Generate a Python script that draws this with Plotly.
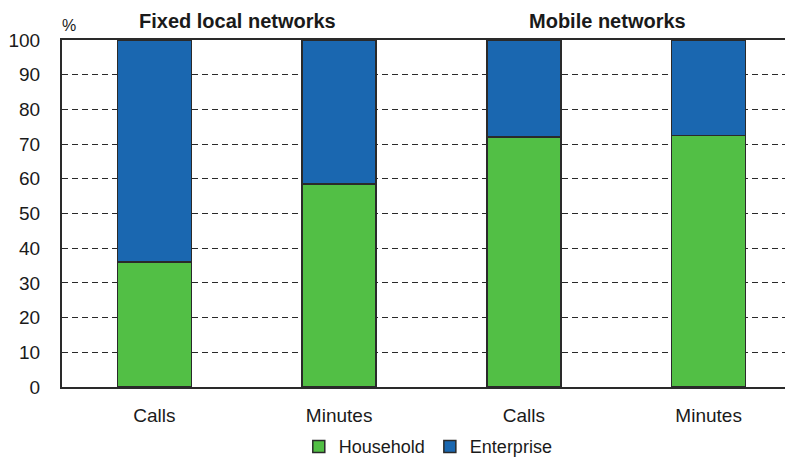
import plotly.graph_objects as go

FONT_FAMILY = "'Liberation Sans', Arial, sans-serif"
TEXT = '#1a1a1a'
GREEN = '#52bf45'
BLUE = '#1a67b0'
LINE = '#2a2a2a'

categories = ['Calls', 'Minutes', 'Calls ', 'Minutes ']
tick_labels = ['Calls', 'Minutes', 'Calls', 'Minutes']
household = [36, 58.5, 72, 72.5]
enterprise = [64, 41.5, 28, 27.5]
groups = ['Fixed local networks', 'Mobile networks']
group_centers = [0.5, 2.5]

fig = go.Figure()
fig.add_bar(x=categories, y=household, name='Household', marker_color=GREEN,
            marker_line=dict(color=LINE, width=1.5), width=0.4)
fig.add_bar(x=categories, y=enterprise, name='Enterprise', marker_color=BLUE,
            marker_line=dict(color=LINE, width=1.5), width=0.4)

for label, xc in zip(groups, group_centers):
    fig.add_annotation(x=xc, xref='x', xshift=-9, y=1.0, yref='paper', yanchor='bottom',
                       yshift=6, text=f'<b>{label}</b>', showarrow=False,
                       font=dict(size=20, color=TEXT))

fig.add_annotation(x=0, xref='paper', xshift=-2, xanchor='left', y=1.0, yref='paper',
                   yanchor='bottom', yshift=4, text='%', showarrow=False,
                   font=dict(size=16, color=TEXT))

# the page body adds an 8px offset, so the figure is laid out from there
fig.update_layout(
    width=793, height=457,
    barmode='stack',
    margin=dict(l=54, r=0, t=32, b=78, autoexpand=False),
    paper_bgcolor='white', plot_bgcolor='white',
    font=dict(family=FONT_FAMILY, size=19, color=TEXT),
    showlegend=True,
    legend=dict(orientation='h', x=0.53, xanchor='center', xref='container',
                y=0.04, yanchor='middle', yref='container',
                font=dict(size=18), itemwidth=30, traceorder='normal',
                bgcolor='rgba(0,0,0,0)'),
)
fig.update_xaxes(
    tickvals=categories, ticktext=tick_labels,
    range=[-0.5, 3.5], showgrid=False, automargin=False,
    showline=True, linecolor=LINE, linewidth=2, mirror=True,
    ticks='', ticklabelstandoff=10,
)
fig.update_yaxes(
    range=[0, 100], tick0=0, dtick=10, automargin=False,
    showgrid=True, gridcolor=LINE, gridwidth=1, griddash='6px,4px',
    zeroline=False, showline=True, linecolor=LINE, linewidth=2,
    ticks='', ticklabelstandoff=16,
)

fig.write_html('out.html')
